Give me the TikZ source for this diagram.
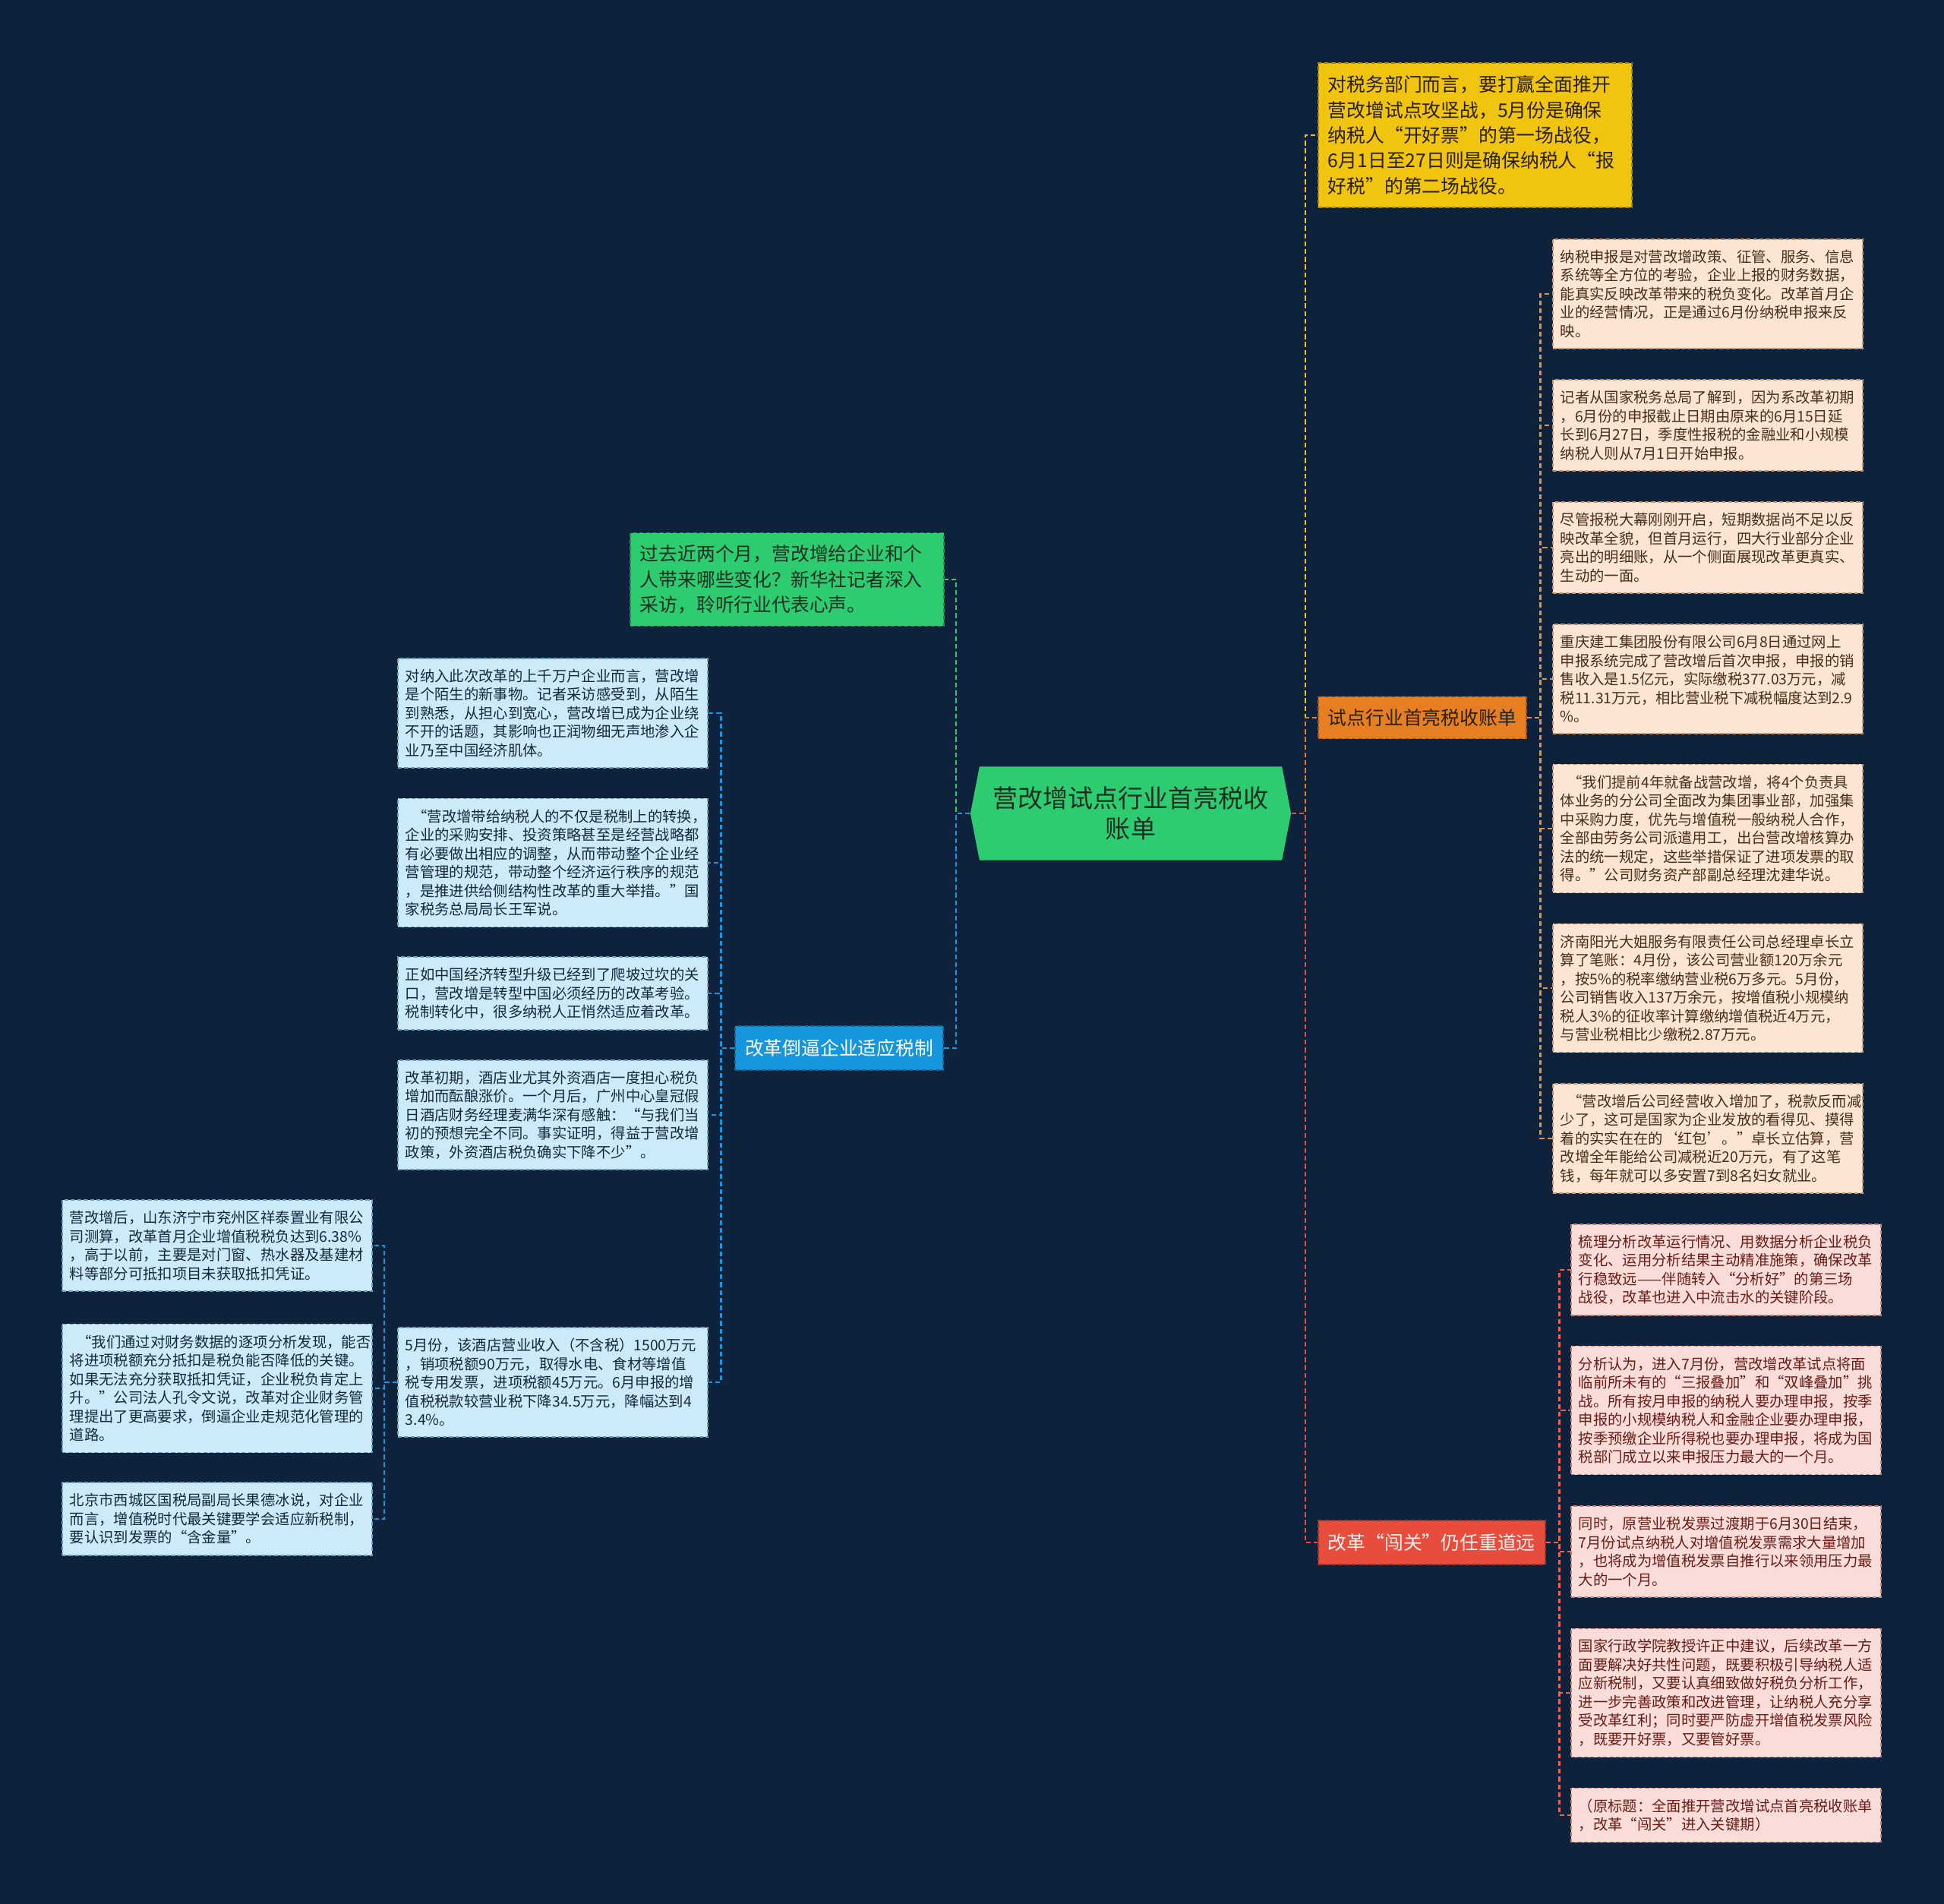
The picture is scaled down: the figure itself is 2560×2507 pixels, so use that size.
\documentclass[tikz,border=0pt]{standalone}
\usepackage{fontspec}
\usepackage{tikz}
\usepackage{xcolor}
\usetikzlibrary{shapes.symbols}
\newfontfamily\zhfont{Noto Sans CJK SC}
\newcommand\leaffont{\zhfont\fontsize{5.5pt}{6.97pt}\selectfont}
\newcommand\midfont{\zhfont\fontsize{7.05pt}{9.47pt}\selectfont}
\newcommand\rootfont{\zhfont\fontsize{9.4pt}{11.4pt}\selectfont}
\definecolor{bgnavy}{RGB}{14, 34, 60}
\definecolor{rootgreen}{RGB}{46, 204, 113}
\definecolor{rootink}{RGB}{28, 48, 34}
\definecolor{brgold}{RGB}{241, 196, 15}
\definecolor{brorange}{RGB}{230, 126, 34}
\definecolor{brred}{RGB}{231, 76, 60}
\definecolor{brblue}{RGB}{22, 150, 220}
\definecolor{lfbeige}{RGB}{252, 229, 211}
\definecolor{lfpink}{RGB}{250, 220, 217}
\definecolor{lfblue}{RGB}{205, 234, 248}
\definecolor{inkbrown}{RGB}{72, 46, 24}
\definecolor{inkred}{RGB}{104, 28, 22}
\definecolor{inknavy}{RGB}{20, 40, 62}
\definecolor{inkdark}{RGB}{40, 32, 8}
\tikzset{
    rootnode/.style={signal, signal to=east and west, signal pointer angle=158, fill=rootgreen, text=rootink, minimum width=4.22cm, minimum height=1.23cm, inner sep=0pt, align=center, font=\rootfont},
    mainbox/.style={rectangle, draw, dash pattern=on 1.6pt off 0.9pt, line width=0.5pt, inner xsep=0.13cm, inner ysep=0pt, align=left, font=\midfont},
    goldbox/.style={mainbox, fill=brgold, draw=brgold!70!black, text=inkdark, text width=3.87cm, minimum height=0.333cm*#1+0.23cm},
    grnbox/.style={mainbox, fill=rootgreen, draw=rootgreen!70!black, text=rootink, text width=3.87cm, minimum height=0.333cm*#1+0.23cm},
    orgbox/.style={mainbox, fill=brorange, draw=brorange!70!black, text=inkdark, minimum height=0.55cm},
    redbox/.style={mainbox, fill=brred, draw=brred!70!black, text=white!92!brred, minimum height=0.58cm},
    blubox/.style={mainbox, fill=brblue, draw=brblue!70!black, text=white, minimum height=0.58cm},
    leaf/.style={rectangle, draw, dash pattern=on 1.5pt off 0.9pt, line width=0.5pt, text width=3.88cm, inner xsep=0.1cm, inner ysep=0.05cm, align=left, font=\leaffont, minimum height=0.245cm*#1+0.22cm},
    beigeleaf/.style={leaf=#1, fill=lfbeige, draw=lfbeige!60!brorange!80!black, text=inkbrown},
    pinkleaf/.style={leaf=#1, fill=lfpink, draw=lfpink!60!brred!80!black, text=inkred},
    blueleaf/.style={leaf=#1, fill=lfblue, draw=lfblue!60!brblue!80!black, text=inknavy},
    link/.style={dash pattern=on 1.8pt off 1.1pt, line width=0.75pt}
}
\begin{document}
\begin{tikzpicture}[x=0.01cm, y=-0.01cm]
\fill[bgnavy] (0,0) rectangle (2560,2507);
\useasboundingbox (0,0) rectangle (2560,2507);
\node[rootnode] (root) at (1489,1071) {营改增试点行业首亮税收\\账单};
\node[goldbox=5, anchor=west] (yel) at (1735,178) {对税务部门而言，要打赢全面推开\\营改增试点攻坚战，5月份是确保\\纳税人“开好票”的第一场战役，\\6月1日至27日则是确保纳税人“报\\好税”的第二场战役。};
\node[orgbox, anchor=west] (org) at (1735,945) {试点行业首亮税收账单};
\node[redbox, anchor=west] (red) at (1735,2031) {改革“闯关”仍任重道远};
\node[grnbox=3, anchor=east] (grn) at (1244,763) {过去近两个月，营改增给企业和个\\人带来哪些变化？新华社记者深入\\采访，聆听行业代表心声。};
\node[blubox, anchor=east] (blu) at (1243,1380) {改革倒逼企业适应税制};
\node[beigeleaf=5, anchor=west] (bg1) at (2044,387) {纳税申报是对营改增政策、征管、服务、信息\\系统等全方位的考验，企业上报的财务数据，\\能真实反映改革带来的税负变化。改革首月企\\业的经营情况，正是通过6月份纳税申报来反\\映。};
\node[beigeleaf=4, anchor=west] (bg2) at (2044,560) {记者从国家税务总局了解到，因为系改革初期\\，6月份的申报截止日期由原来的6月15日延\\长到6月27日，季度性报税的金融业和小规模\\纳税人则从7月1日开始申报。};
\node[beigeleaf=4, anchor=west] (bg3) at (2044,721) {尽管报税大幕刚刚开启，短期数据尚不足以反\\映改革全貌，但首月运行，四大行业部分企业\\亮出的明细账，从一个侧面展现改革更真实、\\生动的一面。};
\node[beigeleaf=5, anchor=west] (bg4) at (2044,894) {重庆建工集团股份有限公司6月8日通过网上\\申报系统完成了营改增后首次申报，申报的销\\售收入是1.5亿元，实际缴税377.03万元，减\\税11.31万元，相比营业税下减税幅度达到2.9\\\%。};
\node[beigeleaf=6, anchor=west] (bg5) at (2044,1091) {\hspace*{0.5em}“我们提前4年就备战营改增，将4个负责具\\体业务的分公司全面改为集团事业部，加强集\\中采购力度，优先与增值税一般纳税人合作，\\全部由劳务公司派遣用工，出台营改增核算办\\法的统一规定，这些举措保证了进项发票的取\\得。”公司财务资产部副总经理沈建华说。};
\node[beigeleaf=6, anchor=west] (bg6) at (2044,1301) {济南阳光大姐服务有限责任公司总经理卓长立\\算了笔账：4月份，该公司营业额120万余元\\，按5\%的税率缴纳营业税6万多元。5月份，\\公司销售收入137万余元，按增值税小规模纳\\税人3\%的征收率计算缴纳增值税近4万元，\\与营业税相比少缴税2.87万元。};
\node[beigeleaf=5, anchor=west] (bg7) at (2044,1499) {\hspace*{0.5em}“营改增后公司经营收入增加了，税款反而减\\少了，这可是国家为企业发放的看得见、摸得\\着的实实在在的‘红包’。”卓长立估算，营\\改增全年能给公司减税近20万元，有了这笔\\钱，每年就可以多安置7到8名妇女就业。};
\node[pinkleaf=4, anchor=west] (pk1) at (2068,1672) {梳理分析改革运行情况、用数据分析企业税负\\变化、运用分析结果主动精准施策，确保改革\\行稳致远——伴随转入“分析好”的第三场\\战役，改革也进入中流击水的关键阶段。};
\node[pinkleaf=6, anchor=west] (pk2) at (2068,1857) {分析认为，进入7月份，营改增改革试点将面\\临前所未有的“三报叠加”和“双峰叠加”挑\\战。所有按月申报的纳税人要办理申报，按季\\申报的小规模纳税人和金融企业要办理申报，\\按季预缴企业所得税也要办理申报，将成为国\\税部门成立以来申报压力最大的一个月。};
\node[pinkleaf=4, anchor=west] (pk3) at (2068,2043) {同时，原营业税发票过渡期于6月30日结束，\\7月份试点纳税人对增值税发票需求大量增加\\，也将成为增值税发票自推行以来领用压力最\\大的一个月。};
\node[pinkleaf=6, anchor=west] (pk4) at (2068,2229) {国家行政学院教授许正中建议，后续改革一方\\面要解决好共性问题，既要积极引导纳税人适\\应新税制，又要认真细致做好税负分析工作，\\进一步完善政策和改进管理，让纳税人充分享\\受改革红利；同时要严防虚开增值税发票风险\\，既要开好票，又要管好票。};
\node[pinkleaf=2, anchor=west] (pk5) at (2068,2390) {（原标题：全面推开营改增试点首亮税收账单\\，改革“闯关”进入关键期）};
\node[blueleaf=5, anchor=east] (lb1) at (933,939) {对纳入此次改革的上千万户企业而言，营改增\\是个陌生的新事物。记者采访感受到，从陌生\\到熟悉，从担心到宽心，营改增已成为企业绕\\不开的话题，其影响也正润物细无声地渗入企\\业乃至中国经济肌体。};
\node[blueleaf=6, anchor=east] (lb2) at (933,1136) {\hspace*{0.5em}“营改增带给纳税人的不仅是税制上的转换，\\企业的采购安排、投资策略甚至是经营战略都\\有必要做出相应的调整，从而带动整个企业经\\营管理的规范，带动整个经济运行秩序的规范\\，是推进供给侧结构性改革的重大举措。”国\\家税务总局局长王军说。};
\node[blueleaf=3, anchor=east] (lb3) at (933,1308) {正如中国经济转型升级已经到了爬坡过坎的关\\口，营改增是转型中国必须经历的改革考验。\\税制转化中，很多纳税人正悄然适应着改革。};
\node[blueleaf=5, anchor=east] (lb4) at (933,1468) {改革初期，酒店业尤其外资酒店一度担心税负\\增加而酝酿涨价。一个月后，广州中心皇冠假\\日酒店财务经理麦满华深有感触：“与我们当\\初的预想完全不同。事实证明，得益于营改增\\政策，外资酒店税负确实下降不少”。};
\node[blueleaf=5, anchor=east] (lb5) at (933,1820) {5月份，该酒店营业收入（不含税）1500万元\\，销项税额90万元，取得水电、食材等增值\\税专用发票，进项税额45万元。6月申报的增\\值税税款较营业税下降34.5万元，降幅达到4\\3.4\%。};
\node[blueleaf=4, anchor=east] (fl1) at (491,1640) {营改增后，山东济宁市兖州区祥泰置业有限公\\司测算，改革首月企业增值税税负达到6.38\%\\，高于以前，主要是对门窗、热水器及基建材\\料等部分可抵扣项目未获取抵扣凭证。};
\node[blueleaf=6, anchor=east] (fl2) at (491,1828) {\hspace*{0.5em}“我们通过对财务数据的逐项分析发现，能否\\将进项税额充分抵扣是税负能否降低的关键。\\如果无法充分获取抵扣凭证，企业税负肯定上\\升。”公司法人孔令文说，改革对企业财务管\\理提出了更高要求，倒逼企业走规范化管理的\\道路。};
\node[blueleaf=3, anchor=east] (fl3) at (491,2000) {北京市西城区国税局副局长果德冰说，对企业\\而言，增值税时代最关键要学会适应新税制，\\要认识到发票的“含金量”。};
\draw[link, brgold] (root.east) -- +(18,0) |- (yel.west);
\draw[link, brorange] (root.east) -- +(18,0) |- (org.west);
\draw[link, brred] (root.east) -- +(18,0) |- (red.west);
\draw[link, rootgreen] (root.west) -- +(-18,0) |- (grn.east);
\draw[link, brblue] (root.west) -- +(-18,0) |- (blu.east);
\draw[link, brorange!85!lfbeige] (org.east) -- +(18,0) |- (bg1.west);
\draw[link, brorange!85!lfbeige] (org.east) -- +(18,0) |- (bg2.west);
\draw[link, brorange!85!lfbeige] (org.east) -- +(18,0) |- (bg3.west);
\draw[link, brorange!85!lfbeige] (org.east) -- +(18,0) |- (bg4.west);
\draw[link, brorange!85!lfbeige] (org.east) -- +(18,0) |- (bg5.west);
\draw[link, brorange!85!lfbeige] (org.east) -- +(18,0) |- (bg6.west);
\draw[link, brorange!85!lfbeige] (org.east) -- +(18,0) |- (bg7.west);
\draw[link, brred!85!lfpink] (red.east) -- +(18,0) |- (pk1.west);
\draw[link, brred!85!lfpink] (red.east) -- +(18,0) |- (pk2.west);
\draw[link, brred!85!lfpink] (red.east) -- +(18,0) |- (pk3.west);
\draw[link, brred!85!lfpink] (red.east) -- +(18,0) |- (pk4.west);
\draw[link, brred!85!lfpink] (red.east) -- +(18,0) |- (pk5.west);
\draw[link, brblue] (blu.west) -- +(-18,0) |- (lb1.east);
\draw[link, brblue] (blu.west) -- +(-18,0) |- (lb2.east);
\draw[link, brblue] (blu.west) -- +(-18,0) |- (lb3.east);
\draw[link, brblue] (blu.west) -- +(-18,0) |- (lb4.east);
\draw[link, brblue] (blu.west) -- +(-18,0) |- (lb5.east);
\draw[link, brblue] (lb5.west) -- +(-17,0) |- (fl1.east);
\draw[link, brblue] (lb5.west) -- +(-17,0) |- (fl2.east);
\draw[link, brblue] (lb5.west) -- +(-17,0) |- (fl3.east);
\end{tikzpicture}
\end{document}
